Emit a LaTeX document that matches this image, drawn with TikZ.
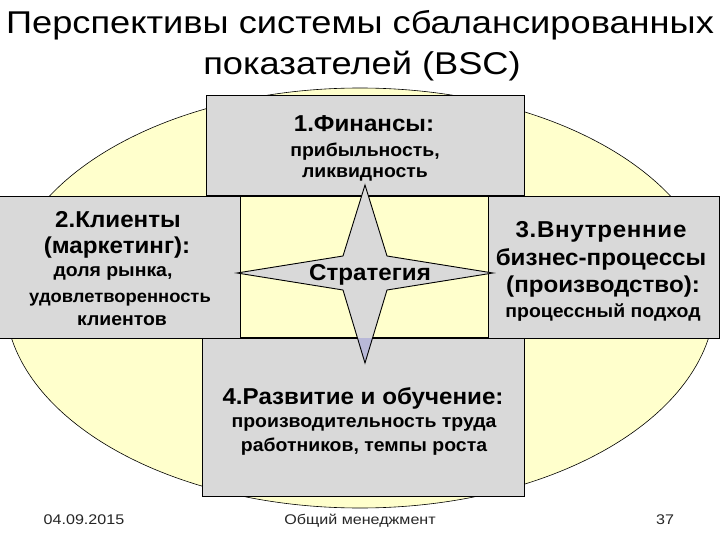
\documentclass[tikz,border=0pt]{standalone}
\usepackage{fontspec}
\setmainfont{Liberation Sans}[FakeStretch=1.15]
\newfontfamily\boxfont{Liberation Sans}[FakeStretch=1.05]
\definecolor{boxgray}{RGB}{217,217,217}
\definecolor{elyellow}{RGB}{255,255,204}
\definecolor{tiplav}{RGB}{184,184,216}
\begin{document}
\begin{tikzpicture}[x=1pt,y=-1pt,
  box/.style={draw=black, line width=0.6pt, fill=boxgray, inner sep=0pt},
  head/.style={font=\boxfont\fontsize{23}{26}\selectfont\bfseries, inner sep=0pt, anchor=base},
  sub/.style={font=\boxfont\fontsize{18.5}{21}\selectfont\bfseries, inner sep=0pt, anchor=base},
  foot/.style={font=\fontsize{14}{16}\selectfont, text=black!85, inner sep=0pt, anchor=base},
  ttl/.style={font=\fontsize{31.5}{36}\selectfont, inner sep=0pt, anchor=base}]
\useasboundingbox[fill=white] (0,0) rectangle (720,540);
% title
\node[ttl] (title1) at (360,34) {Перспективы системы сбалансированных};
\node[ttl] (title2) at (362,75) {показателей (BSC)};
% ellipse
\draw[fill=elyellow, line width=0.6pt] (360,298) ellipse [x radius=355, y radius=210];
% boxes
\node[box, minimum width=318pt, minimum height=100pt] (fin) at (365,145.5) {};
\node[box, minimum width=322pt, minimum height=158pt] (dev) at (363,417) {};
\node[box, minimum width=242pt, minimum height=142pt] (cli) at (120,267) {};
\node[box, minimum width=232pt, minimum height=142pt] (proc) at (603,267) {};
\node[draw=black, line width=0.6pt, fill=elyellow, minimum width=248pt, minimum height=141pt, inner sep=0pt] (center) at (364,267) {};
% star
\coordinate (st) at (365,185);
\coordinate (sr) at (493,273);
\coordinate (sb) at (365,363);
\coordinate (sl) at (237,273);
\fill[boxgray] (st) -- (387,256) -- (sr) -- (387,290) -- (sb) -- (343,290) -- (sl) -- (343,256) -- cycle;
\begin{scope}
\clip (300,338) rectangle (430,370);
\fill[tiplav] (st) -- (387,256) -- (sr) -- (387,290) -- (sb) -- (343,290) -- (sl) -- (343,256) -- cycle;
\end{scope}
\draw[line width=0.9pt, line join=miter] (st) -- (387,256) -- (sr) -- (387,290) -- (sb) -- (343,290) -- (sl) -- (343,256) -- cycle;
\node[head] (strat) at (370,280) {Стратегия};
% finance
\node[head] (finh) at (364,132) {1.Финансы:};
\node[sub] (fins1) at (365,157) {прибыльность,};
\node[sub] (fins2) at (365,178) {ликвидность};
% clients
\node[head] (clih1) at (118,227) {2.Клиенты};
\node[head] (clih2) at (117,253) {(маркетинг):};
\node[sub] (clis1) at (113,276) {доля рынка,};
\node[sub, font=\boxfont\fontsize{17.5}{21}\selectfont\bfseries] (clis2) at (120,302) {удовлетворенность};
\node[sub] (clis3) at (122,325) {клиентов};
% processes
\node[head, font=\boxfont\fontsize{23}{26}\selectfont\bfseries\addfontfeature{LetterSpace=3}] (proch1) at (601,237) {3.Внутренние};
\node[head] (proch2) at (601,265) {бизнес-процессы};
\node[head] (proch3) at (603,292) {(производство):};
\node[sub] (procs) at (603,317) {процессный подход};
% development
\node[head] (devh) at (363,404) {4.Развитие и обучение:};
\node[sub] (devs1) at (364,427) {производительность труда};
\node[sub] (devs2) at (364,451) {работников, темпы роста};
% footer
\node[foot] (date) at (84,524) {04.09.2015};
\node[foot] (course) at (360,524) {Общий менеджмент};
\node[foot] (page) at (665,524) {37};
\end{tikzpicture}
\end{document}
